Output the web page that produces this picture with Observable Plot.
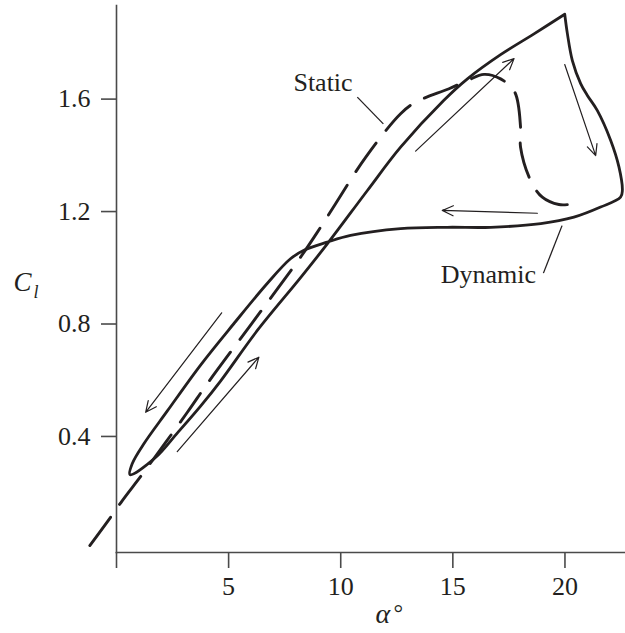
<!DOCTYPE html>
<html><head><meta charset="utf-8">
<script src="https://cdn.jsdelivr.net/npm/d3@7"></script>
<script src="https://cdn.jsdelivr.net/npm/@observablehq/plot@0.6"></script>
<style>body{margin:0;background:#fff}</style>
</head><body><div id="chart"></div>
<script>
const xTicks = [0, 5, 10, 15, 20];
const yTicks = [0.4, 0.8, 1.2, 1.6];

// Dynamic hysteresis loop (alpha in degrees, Cl), starting at the peak and going round clockwise
const dynAlpha = [19.99,
  20.11,20.33,20.70,21.00,21.44,22.04,22.41,22.56,22.48,
  21.59,20.40,18.92,16.69,14.75,12.67,10.44,9.40,8.36,7.76,
  6.73,5.22,3.75,2.26,1.22,0.70,0.60,
  1.74,2.71,3.75,4.64,6.28,8.21,9.40,11.19,12.67,14.59,15.65,17.13,18.62,19.99];
const dynCl = [1.902,
  1.832,1.737,1.655,1.613,1.560,1.453,1.358,1.275,1.251,
  1.216,1.180,1.157,1.144,1.144,1.139,1.115,1.091,1.062,1.032,
  0.945,0.800,0.654,0.490,0.374,0.303,0.264,
  0.325,0.412,0.508,0.597,0.777,0.965,1.085,1.275,1.429,1.595,1.672,1.758,1.832,1.902];

// Static curve
const staticAlpha = [-1.19,-0.26,0.26,1.22,3.16,4.05,5.54,7.02,8.21,8.96,9.77,11.11,12.67,13.34,14.83,15.65,16.39,17.13,17.76,18.02,18.02,18.47,18.99,19.73,20.48];
const staticCl = [0.012,0.113,0.172,0.273,0.486,0.588,0.749,0.908,1.038,1.127,1.228,1.393,1.548,1.589,1.637,1.666,1.688,1.672,1.625,1.500,1.429,1.310,1.251,1.225,1.228];

// Direction arrows
const arrowX1 = [4.69, 2.71, 13.34, 19.99, 18.77];
const arrowY1 = [0.840, 0.346, 1.415, 1.723, 1.194];
const arrowX2 = [1.30, 6.35, 17.73, 21.37, 14.53];
const arrowY2 = [0.486, 0.682, 1.744, 1.399, 1.204];

// Labels and leader lines
const labelNames = ["Static", "Dynamic"];
const labelX = [7.89, 14.46];
const labelY = [1.660, 0.974];
const leaderX1 = [10.74, 19.87];
const leaderY1 = [1.607, 1.150];
const leaderX2 = [11.90, 19.04];
const leaderY2 = [1.512, 0.981];

const ink = "#231f20";
const dyn = dynAlpha.map((a, i) => ({a, c: dynCl[i]}));
const stat = staticAlpha.map((a, i) => ({a, c: staticCl[i]}));
const arrows = arrowX1.map((x1, i) => ({x1, y1: arrowY1[i], x2: arrowX2[i], y2: arrowY2[i]}));
const labels = labelNames.map((t, i) => ({t, x: labelX[i], y: labelY[i]}));
const leaders = leaderX1.map((x1, i) => ({x1, y1: leaderY1[i], x2: leaderX2[i], y2: leaderY2[i]}));

const chart = Plot.plot({
  width: 625,
  height: 633,
  marginLeft: 116,
  marginRight: 0,
  marginTop: 5,
  marginBottom: 81,
  style: {fontFamily: "'Liberation Serif', 'Times New Roman', serif", fontSize: "26px", color: ink, background: "#fff"},
  x: {domain: [0, 22.7]},
  y: {domain: [-0.0128, 1.933]},
  marks: [
    Plot.frame({anchor: "left", stroke: "#4a4a4a", strokeWidth: 1.6}),
    Plot.frame({anchor: "bottom", stroke: "#4a4a4a", strokeWidth: 1.6}),
    Plot.axisX({ticks: xTicks, tickSize: 16, tickPadding: 8, tickFormat: d => d === 0 ? "" : String(d), label: null, fontSize: 26, stroke: "#4a4a4a", strokeWidth: 1.6}),
    Plot.axisY({ticks: yTicks, tickSize: 15, tickPadding: 11, tickFormat: d3.format(".1f"), label: null, fontSize: 26, stroke: "#4a4a4a", strokeWidth: 1.6}),
    Plot.line(stat, {x: "a", y: "c", stroke: ink, strokeWidth: 2.9, strokeDasharray: "35,16", curve: "catmull-rom"}),
    Plot.line(dyn, {x: "a", y: "c", stroke: ink, strokeWidth: 2.8, strokeLinecap: "round", curve: "catmull-rom"}),
    Plot.arrow(arrows, {x1: "x1", y1: "y1", x2: "x2", y2: "y2", stroke: ink, strokeWidth: 1.2, headLength: 15, headAngle: 50}),
    Plot.link(leaders, {x1: "x1", y1: "y1", x2: "x2", y2: "y2", stroke: ink, strokeWidth: 1.3}),
    Plot.text(labels, {x: "x", y: "y", text: "t", textAnchor: "start", fontSize: 26, fill: ink}),
    Plot.text(["C"], {frameAnchor: "left", dx: -103, dy: 3, textAnchor: "start", fontSize: 27, fontStyle: "italic", fill: ink}),
    Plot.text(["l"], {frameAnchor: "left", dx: -83, dy: 13, textAnchor: "start", fontSize: 18, fontStyle: "italic", fill: ink}),
    Plot.text(["α"], {frameAnchor: "bottom", dx: 4.5, dy: 70, textAnchor: "start", fontSize: 28, fontStyle: "italic", fill: ink}),
    Plot.text(["°"], {frameAnchor: "bottom", dx: 22.5, dy: 68, textAnchor: "start", fontSize: 24, fill: ink})
  ]
});
document.getElementById("chart").appendChild(chart);
</script>
</body></html>
